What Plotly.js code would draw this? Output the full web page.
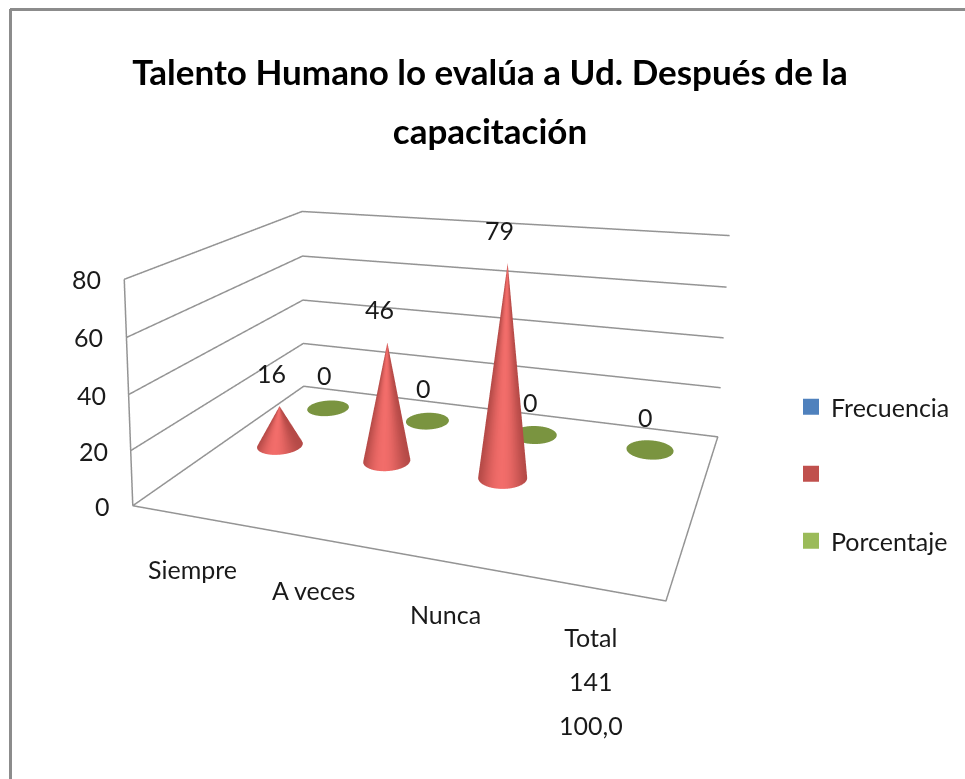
<!DOCTYPE html>
<html><head><meta charset="utf-8">
<script src="https://cdn.plot.ly/plotly-3.0.1.min.js"></script>
<style>html,body{margin:0;padding:0;background:#fff;overflow:hidden;width:965px;height:779px}
#c{position:absolute;left:-300px;top:-257px;width:1500px;height:1036px}</style></head>
<body><div id="c"></div>
<script>
var categories=["Siempre","A veces","Nunca","Total"];
var totalLines=["141","100,0"];
var seriesNames=["Frecuencia","","Porcentaje"];
var seriesColors=["#4f81bd","#c0504d","#9bbb59"];
var redValues=[16,46,79,null];
var greenValues=[0,0,0,0];
var valueTicks=[0,20,40,60,80];

var PW=1500,PH=1036,OX=300,OY=257;
function px(x){return (x+OX)/PW;}
function py(y){return 1-(y+OY)/PH;}
var xr=[-0.5,3.5],yr=[-0.5,2.5],zr=[0,80];
var pad=0.01;
function padded(r){var d=(r[1]-r[0])*pad;return [r[0]-d,r[1]+d];}
var font='Lato,"Liberation Sans",sans-serif';
var rX=0.193,rY=0.22;
function hex(c){return [1,3,5].map(function(i){return parseInt(c.substr(i,2),16);});}
function mix(a,b,t){var A=hex(a),B=hex(b);return 'rgb('+A.map(function(v,i){return Math.round(v+(B[i]-v)*t);}).join(',')+')';}
function cone(cx,cy,h,dark,light){
  var n=48,x=[],y=[],z=[],i=[],j=[],k=[],vc=[];
  for(var a=0;a<n;a++){
    var t1=a/n*2*Math.PI,t2=(a+1)/n*2*Math.PI,tm=(t1+t2)/2,b=x.length;
    x.push(cx,cx+rX*Math.cos(t1),cx+rX*Math.cos(t2));
    y.push(cy,cy+rY*Math.sin(t1),cy+rY*Math.sin(t2));
    z.push(h,0,0);
    [tm,t1,t2].forEach(function(t){var s=Math.max(0,Math.cos(t+1.3));vc.push(mix(dark,light,s*s*s));});
    i.push(b);j.push(b+1);k.push(b+2);
  }
  return {type:'mesh3d',x:x,y:y,z:z,i:i,j:j,k:k,vertexcolor:vc,flatshading:false,showlegend:false,hoverinfo:'skip',
    lighting:{ambient:1,diffuse:0,specular:0,roughness:1,fresnel:0}};
}
function line(xs,ys,zs){return {type:'scatter3d',mode:'lines',x:xs,y:ys,z:zs,line:{color:'#949494',width:3},showlegend:false,hoverinfo:'skip'};}
var traces=[];
valueTicks.forEach(function(v){ if(v>0) traces.push(line([xr[0],xr[0],xr[1]],[yr[0],yr[1],yr[1]],[v,v,v])); });
traces.push(line([xr[0],xr[1],xr[1],xr[0],xr[0]],[yr[0],yr[0],yr[1],yr[1],yr[0]],[0,0,0,0,0]));
traces.push(line([xr[0],xr[0]],[yr[0],yr[0]],zr));
greenValues.forEach(function(v,c){traces.push(cone(c,2,v,'#7a9440','#7a9440'));});
redValues.forEach(function(v,c){ if(v!==null) traces.push(cone(c,1,v,'#b54a47','#f26d6a'));});
seriesNames.forEach(function(nm,s){traces.push({type:'scatter3d',mode:'markers',x:[null],y:[null],z:[null],name:nm,legendgroup:'g'+s,
   marker:{symbol:'square',size:16,color:seriesColors[s]},showlegend:true,hoverinfo:'skip'});});

var ann=[];
function txt(x,y,z,t,xs,ys,xa,ya){ann.push({x:x,y:y,z:z,text:t,showarrow:false,xshift:xs,yshift:ys,xanchor:xa||'center',yanchor:ya||'middle',font:{family:font,size:25,color:'#1a1a1a'}});}
valueTicks.forEach(function(v){txt(xr[0],yr[0],v,String(v),-21,0,'right');});
redValues.forEach(function(v,c){ if(v!==null) txt(c,1,v,String(v),-8,33);});
greenValues.forEach(function(v,c){txt(c,2,v,String(v),-4,33);});
categories.forEach(function(c,i){
  var t=c, top=i==categories.length-1;
  txt(i,yr[0],0,top?'<span style="font-size:25px">'+[c].concat(totalLines).join('<br>')+'</span>':t,4,-53,'center',top?'top':'middle');
  if(top){var a=ann[ann.length-1];a.font.size=34;a.yshift=-33;}
});

Plotly.newPlot('c',traces,{width:PW,height:PH,paper_bgcolor:'#fff',margin:{l:0,r:0,t:0,b:0,pad:0},
 title:{text:'<b><span style="font-size:35px">Talento Humano lo evalúa a Ud. Después de la<br>capacitación</span></b>',
   font:{family:font,size:45,color:'#000'},x:px(490),xanchor:'center',xref:'paper',y:py(85),yanchor:'top',yref:'container',automargin:false},
 showlegend:true,
 legend:{x:px(791),y:py(384),xanchor:'left',yanchor:'top',font:{family:font,size:25,color:'#1a1a1a'},traceorder:'grouped',tracegroupgap:31.5,itemclick:false,itemdoubleclick:false,bgcolor:'rgba(0,0,0,0)'},
 hovermode:false,
 shapes:[
  {type:'line',xref:'paper',yref:'paper',x0:px(10),x1:px(965),y0:py(9.5),y1:py(9.5),line:{color:'#8c8c8c',width:3}},
  {type:'line',xref:'paper',yref:'paper',x0:px(10.5),x1:px(10.5),y0:py(9),y1:py(779),line:{color:'#8c8c8c',width:3}}],
 scene:{domain:{x:[0,1080/PW],y:[6/PH,1]},dragmode:'orbit',aspectmode:'manual',aspectratio:{x:1.758*(1+2*pad),y:1.509*(1+2*pad),z:0.8*(1+2*pad)},
   bgcolor:'rgba(0,0,0,0)',
   xaxis:{range:padded(xr),visible:false},yaxis:{range:padded(yr),visible:false},zaxis:{range:padded(zr),visible:false},
   camera:{eye:{x:1.248,y:-4.22,z:1.265},center:{x:-1.005,y:0.382,z:0.252},up:{x:0,y:0.043,z:1},projection:{type:'perspective'}},
   annotations:ann}
},{displayModeBar:false});
</script></body></html>
